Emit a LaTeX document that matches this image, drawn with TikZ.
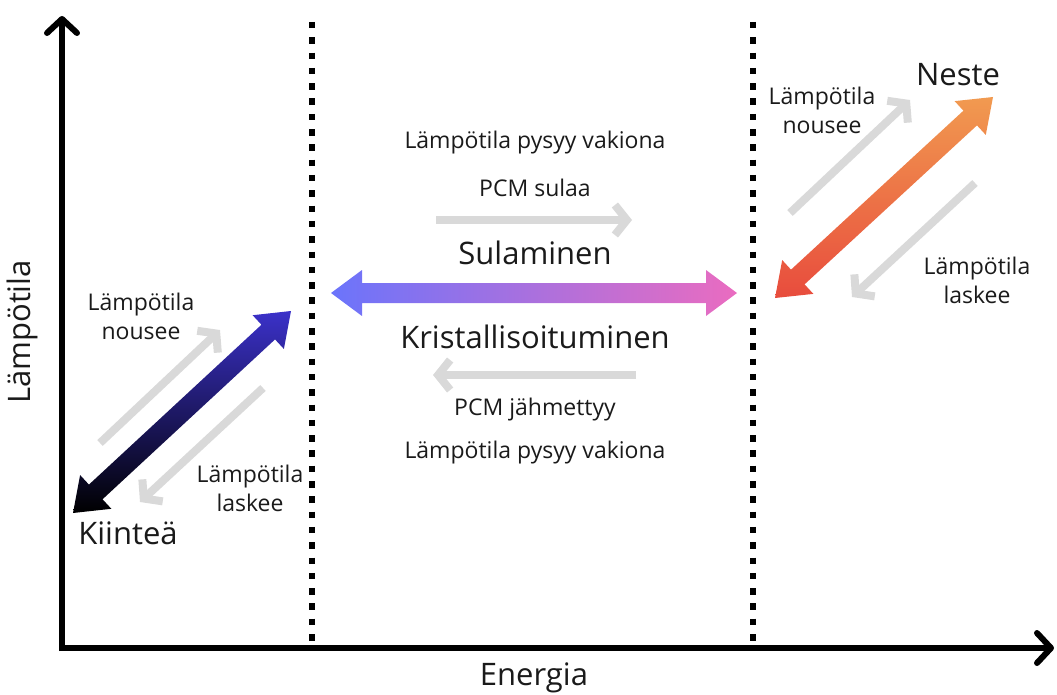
\documentclass[tikz,border=0pt]{standalone}
\usepackage{fontspec}
\setmainfont{Open Sans}
\usetikzlibrary{arrows.meta,calc}
\definecolor{txt}{HTML}{1A1A1A}
\definecolor{lgray}{HTML}{D9D9D9}
\definecolor{darkblue}{HTML}{3B31C9}
\definecolor{hblue}{HTML}{6B74FB}
\definecolor{hpink}{HTML}{EA6CC0}
\definecolor{ored}{HTML}{E84C3D}
\definecolor{oorange}{HTML}{F19A50}
\newcommand\ahl{31pt}
\newcommand\ahw{23pt}
\newcommand\asw{10pt}
\newcommand\gradarrow[3]{%
  \path[#3] let \p1=($(#2)-(#1)$), \n1={atan2(\y1,\x1)}, \n2={veclen(\x1,\y1)} in
   (#1) -- ($(#1)+(\n1:\ahl)+(\n1+90:\ahw)$) -- ($(#1)+(\n1:\ahl)+(\n1+90:\asw)$)
   -- ($(#1)+(\n1:{\n2-\ahl})+(\n1+90:\asw)$) -- ($(#1)+(\n1:{\n2-\ahl})+(\n1+90:\ahw)$)
   -- (#2) -- ($(#1)+(\n1:{\n2-\ahl})+(\n1-90:\ahw)$) -- ($(#1)+(\n1:{\n2-\ahl})+(\n1-90:\asw)$)
   -- ($(#1)+(\n1:\ahl)+(\n1-90:\asw)$) -- ($(#1)+(\n1:\ahl)+(\n1-90:\ahw)$) -- cycle;}
\tikzset{
  axis/.style={line width=6pt, black, -{Straight Barb[length=14pt,width=30pt,line cap=round,line join=round]}},
  dotline/.style={line width=6.5pt, black, dash pattern=on 6.5pt off 8.8pt},
  grayarrow/.style={line width=8pt, lgray, -{Straight Barb[length=12pt,width=30pt]}},
  small/.style={text=txt, font=\fontsize{23}{29}\selectfont, align=center, inner sep=0pt},
  big/.style={text=txt, font=\fontsize{31}{36}\selectfont, inner sep=0pt},
}
\begin{document}
\begin{tikzpicture}[x=1pt,y=-1pt]
\useasboundingbox (0,0) rectangle (1057,695);
% axes
\coordinate (O) at (62,648);
\coordinate (ytip) at (62,16);
\coordinate (xtip) at (1054,648);
\coordinate (xstart) at (59,648);
\coordinate (ystart) at (62,651);
\draw[axis] (ystart) -- (ytip);
\draw[axis] (xstart) -- (xtip);
% dotted lines
\coordinate (d1t) at (312,22);
\coordinate (d1b) at (312,642);
\coordinate (d2t) at (753,22);
\coordinate (d2b) at (753,642);
\draw[dotline] (d1t) -- (d1b);
\draw[dotline] (d2t) -- (d2b);
% gradient arrows
\coordinate (s1) at (73,513);
\coordinate (s2) at (291,311);
\gradarrow{s1}{s2}{shade, top color=darkblue, bottom color=black}
\coordinate (l1) at (775,298);
\coordinate (l2) at (993,97);
\gradarrow{l1}{l2}{shade, top color=oorange, bottom color=ored}
\coordinate (h1) at (331,293);
\coordinate (h2) at (737,293);
\gradarrow{h1}{h2}{shade, left color=hblue, right color=hpink}
% gray arrows
\coordinate (g1a) at (100,443); \coordinate (g1b) at (220,330);
\coordinate (g2a) at (263,388); \coordinate (g2b) at (140,502);
\coordinate (g3a) at (790,213); \coordinate (g3b) at (910,100);
\coordinate (g4a) at (975,183); \coordinate (g4b) at (852,297);
\coordinate (g5a) at (436,220); \coordinate (g5b) at (632,220);
\coordinate (g6a) at (636,375); \coordinate (g6b) at (433,375);
\draw[grayarrow] (g1a) -- (g1b);
\draw[grayarrow] (g2a) -- (g2b);
\draw[grayarrow] (g3a) -- (g3b);
\draw[grayarrow] (g4a) -- (g4b);
\draw[grayarrow] (g5a) -- (g5b);
\draw[grayarrow] (g6a) -- (g6b);
% texts
\node[small] (t1) at (535,143) {Lämpötila pysyy vakiona};
\node[small] (t2) at (535,188) {PCM sulaa};
\node[big] (t3) at (535,253) {Sulaminen};
\node[big] (t4) at (535,337) {Kristallisoituminen};
\node[small] (t5) at (535,410) {PCM jähmettyy};
\node[small] (t6) at (535,453) {Lämpötila pysyy vakiona};
\node[small] (t7) at (141,316) {Lämpötila\\nousee};
\node[small] (t8) at (250,488) {Lämpötila\\laskee};
\node[small] (t9) at (822,110) {Lämpötila\\nousee};
\node[small] (t10) at (977,280) {Lämpötila\\laskee};
\node[big] (neste) at (958,75) {Neste};
\node[big] (kiintea) at (128,533) {Kiinteä};
\node[big] (energia) at (534,678) {Energia};
\node[big, rotate=90] (lampo) at (22,332) {Lämpötila};
\end{tikzpicture}
\end{document}
